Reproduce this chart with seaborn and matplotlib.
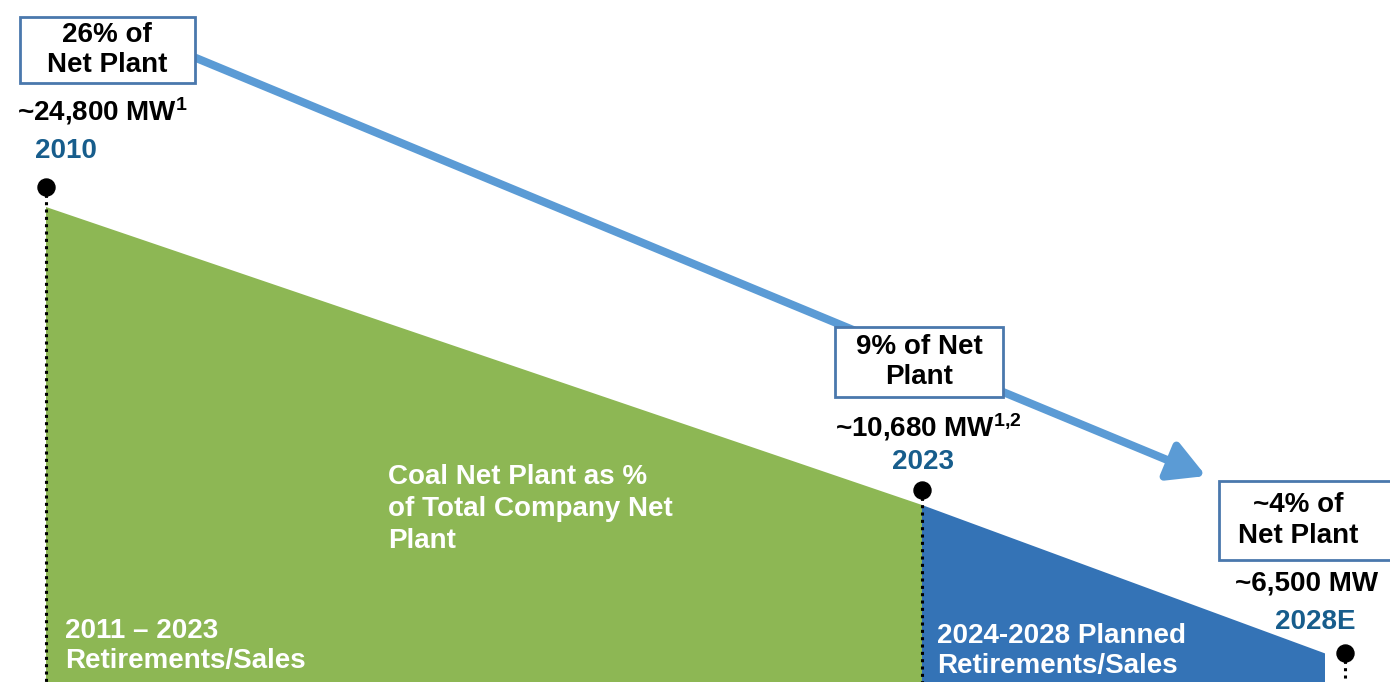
import numpy as np
import matplotlib
matplotlib.use("Agg")
import matplotlib.pyplot as plt
import seaborn as sns
from matplotlib.patches import Rectangle
from matplotlib.transforms import IdentityTransform, offset_copy

# data
years = [2010, 2023, 2028]
year_labels = ["2010", "2023", "2028E"]
capacity_mw = [24800, 10680, 6500]
mw_labels = ["~24,800 MW$^{1}$", "~10,680 MW$^{1{,}2}$", "~6,500 MW"]
share_labels = ["26% of\nNet Plant", "9% of Net\nPlant", "~4% of\nNet Plant"]
period_labels = ["2011 – 2023\nRetirements/Sales", "2024-2028 Planned\nRetirements/Sales"]
center_label = "Coal Net Plant as %\nof Total Company Net\nPlant"

GREEN = "#8db754"
BLUE = "#3473b6"
ARROW = "#5b9bd5"
BOX_EDGE = "#4a78ad"
YEAR_COL = "#175d8c"
FS = 20

sns.set_theme(style="white")
plt.rcParams["font.family"] = ["Liberation Sans", "DejaVu Sans"]
plt.rcParams["font.weight"] = "bold"
plt.rcParams["mathtext.fontset"] = "custom"
plt.rcParams["mathtext.rm"] = "Liberation Sans:bold"
plt.rcParams["mathtext.bf"] = "Liberation Sans:bold"
plt.rcParams["mathtext.default"] = "bf"

W, H = 1390, 682
fig = plt.figure(figsize=(W / 100, H / 100), dpi=100)
ax = fig.add_axes([0, 0, 1, 1])
ax.set_axis_off()

# schematic scales: the slide is not drawn to a linear scale
px_per_year = (922 - 46) / 13
k_late = (1325 - 922) / 5 / px_per_year


def xf(v):
    v = np.asarray(v, dtype=float)
    return np.where(v <= 2023, v, 2023 + (v - 2023) * k_late)


def xi(t):
    t = np.asarray(t, dtype=float)
    return np.where(t <= 2023, t, 2023 + (t - 2023) / k_late)


def yf(v):
    v = np.asarray(v, dtype=float)
    return np.sign(v) * np.abs(v) ** 0.25


def yi(t):
    t = np.asarray(t, dtype=float)
    return np.sign(t) * np.abs(t) ** 4


ax.set_xscale("function", functions=(xf, xi))
ax.set_yscale("function", functions=(yf, yi))
t_left = 2010 - 46 / px_per_year
t_right = 2010 + (W - 46) / px_per_year
ax.set_xlim(float(xi(t_left)), float(xi(t_right)))
b = (505 - 207) / (yf(capacity_mw[0]) - yf(capacity_mw[1]))
t0 = yf(capacity_mw[0])
ax.set_ylim(float(yi(t0 - (H - 207) / b)), float(yi(t0 + 207 / b)))

# areas
ax.fill_between(years[:2], capacity_mw[:2], 0, color=GREEN, lw=0, zorder=1)
ax.fill_between(years[1:], capacity_mw[1:], 0, color=BLUE, lw=0, zorder=1)

# dots + dotted drop lines, nudged above the area edge
dot_off = [(0, 20), (0, 15), (20, 0)]
for yr, mw, (dx, dy) in zip(years, capacity_mw, dot_off):
    tr = offset_copy(ax.transData, fig=fig, x=dx, y=dy, units="dots")
    ax.plot([yr, yr], [mw, 0], transform=tr, color="black",
            ls=(0, (1, 1.4)), lw=2.2, zorder=2)
    ax.scatter([yr], [mw], transform=tr, s=150, color="black", zorder=6)

# labels stacked above each point
year_off = [(20, 56), (1, 43), (-10, 31)]
mw_off = [(56, 96), (6, 78), (-18, 70)]
box_off = [(61, 157), (-3, 143), (-18, 133)]
box_txt_off = [(61, 157), (-3, 143), (-27, 133)]
box_size = [(175, 66), (168, 70), (176, 79)]

for i, (yr, mw) in enumerate(zip(years, capacity_mw)):
    ax.annotate(year_labels[i], (yr, mw), xytext=year_off[i], textcoords="offset pixels",
                ha="center", va="center", fontsize=FS, color=YEAR_COL, zorder=7)
    ax.annotate(mw_labels[i], (yr, mw), xytext=mw_off[i], textcoords="offset pixels",
                ha="center", va="center", fontsize=FS, color="black", zorder=7)
    px, py = ax.transData.transform((yr, mw))
    bw, bh = box_size[i]
    cx, cy = px + box_off[i][0], py + box_off[i][1]
    ax.add_patch(Rectangle((cx - bw / 2, cy - bh / 2), bw, bh, transform=IdentityTransform(),
                           facecolor="white", edgecolor=BOX_EDGE, lw=2, zorder=5,
                           clip_on=False))
    ax.annotate(share_labels[i], (yr, mw), xytext=box_txt_off[i], textcoords="offset pixels",
                ha="center", va="center", fontsize=FS, color="black", linespacing=1.25,
                zorder=7, annotation_clip=False)

# trend arrow (drawn behind the boxes)
ax.annotate("", xy=(1206, H - 476), xytext=(196, H - 58),
            xycoords="figure pixels", textcoords="figure pixels",
            arrowprops=dict(arrowstyle="-|>,head_length=1.0,head_width=0.55",
                            mutation_scale=22, color=ARROW, lw=5.8,
                            shrinkA=0, shrinkB=0),
            zorder=4)

# text inside the areas
ax.annotate(center_label, (388, H - 509), xycoords="figure pixels", ha="left", va="center",
            fontsize=FS, color="white", linespacing=1.3, zorder=3)
ax.annotate(period_labels[0], (65, H - 646), xycoords="figure pixels", ha="left", va="center",
            fontsize=FS, color="white", linespacing=1.2, zorder=3)
ax.annotate(period_labels[1], (937, H - 651), xycoords="figure pixels", ha="left", va="center",
            fontsize=FS, color="white", linespacing=1.2, zorder=3)

fig.savefig("out.png", dpi=100)
